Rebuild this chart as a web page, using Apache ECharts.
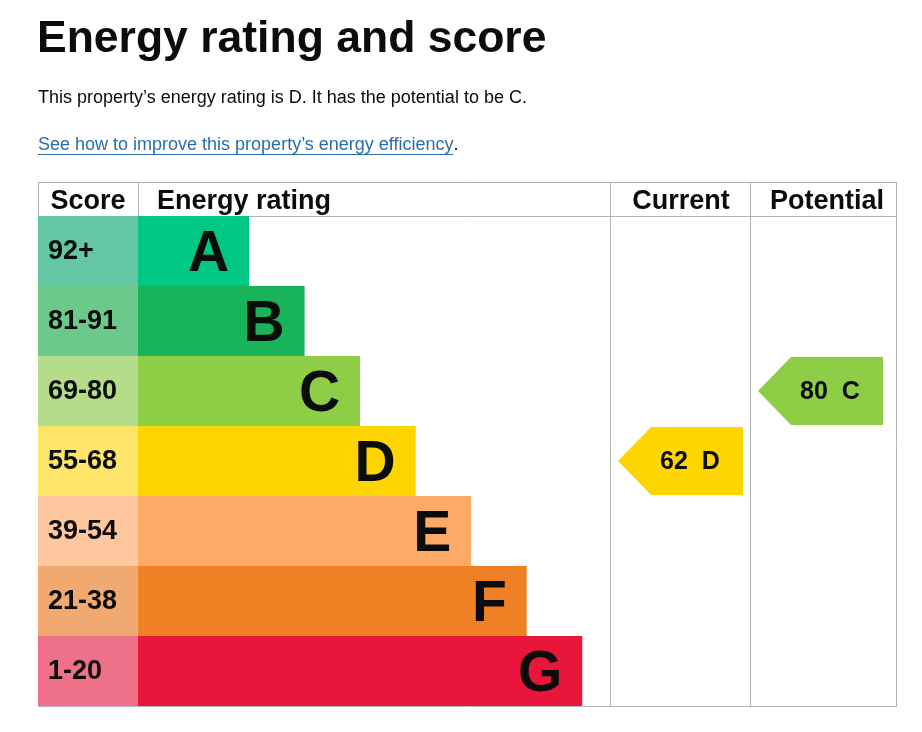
<!DOCTYPE html>
<html>
<head>
<meta charset="utf-8">
<script src="https://cdn.jsdelivr.net/npm/echarts/dist/echarts.min.js"></script>
<style>
  html, body { margin: 0; padding: 0; background: #fff; }
  #main { width: 922px; height: 732px; }
</style>
</head>
<body>
<div id="main"></div>
<script>
var ratings = ['A', 'B', 'C', 'D', 'E', 'F', 'G'];
var scoreRanges = ['92+', '81-91', '69-80', '55-68', '39-54', '21-38', '1-20'];
var bandMin = [92, 81, 69, 55, 39, 21, 1];
var barLength = [2, 3, 4, 5, 6, 7, 8];
var ratingColors = ['#00c781', '#19b459', '#8dce46', '#ffd500', '#fcaa65', '#ef8023', '#e9153b'];
var scoreColors = ['#62c7a2', '#6cc98c', '#b5dd89', '#ffe46a', '#fec79d', '#f0a970', '#ef7189'];
var currentScore = 62;
var potentialScore = 80;

var FONT = '"Liberation Sans", Arial, Helvetica, sans-serif';
var INK = '#0b0c0c';
var LINE = '#b1b4b6';
var LINK = '#2a6eae';

var linkText = 'See how to improve this property\u2019s energy efficiency';

function bandOf(score) {
  for (var i = 0; i < bandMin.length; i++) {
    if (score >= bandMin[i]) return i;
  }
  return bandMin.length - 1;
}

// width of the link text, for its underline
var ctx = document.createElement('canvas').getContext('2d');
ctx.font = '18px ' + FONT;
var linkW = ctx.measureText(linkText).width;

var myChart = echarts.init(document.getElementById('main'));

// four columns of the table share the same row bands
var cols = [
  { left: 38, width: 100 },
  { left: 138, width: 472 },
  { left: 610, width: 140 },
  { left: 750, width: 147 }
];
var grids = cols.map(function (c) {
  return { left: c.left, width: c.width, top: 216, height: 490 };
});
var xAxes = cols.map(function (c, i) {
  return { gridIndex: i, type: 'value', min: 0, max: i === 1 ? 8.5 : 1, show: false };
});
var yAxes = cols.map(function (c, i) {
  return { gridIndex: i, type: 'category', data: ratings, inverse: true, show: false };
});

function arrow(score) {
  return function (params, api) {
    var p = api.coord([api.value(0), api.value(1)]);
    var h = api.size([0, 1])[1] - 2;
    var x0 = p[0] + 8, w = 125, tip = 33;
    var top = p[1] - h / 2, bot = p[1] + h / 2;
    var idx = api.value(1);
    return {
      type: 'group',
      children: [{
        type: 'polygon',
        shape: { points: [[x0, p[1]], [x0 + tip, top], [x0 + w, top], [x0 + w, bot], [x0 + tip, bot]] },
        style: { fill: ratingColors[idx] }
      }, {
        type: 'text',
        style: {
          text: score + '  ' + ratings[idx],
          x: x0 + 72, y: p[1] + 1,
          align: 'center', verticalAlign: 'middle',
          font: 'bold 25px ' + FONT, fill: INK
        }
      }]
    };
  };
}

function hline(x1, x2, y) {
  return { type: 'line', z: 0, shape: { x1: x1, y1: y, x2: x2, y2: y }, style: { stroke: LINE, lineWidth: 1 } };
}
function vline(x, y1, y2) {
  return { type: 'line', z: 0, shape: { x1: x, y1: y1, x2: x, y2: y2 }, style: { stroke: LINE, lineWidth: 1 } };
}
function headText(text, x, align) {
  return { type: 'text', z: 5, style: { text: text, x: x, y: 202, align: align, verticalAlign: 'middle', font: 'bold 27px ' + FONT, fill: INK } };
}

var option = {
  animation: false,
  grid: grids,
  xAxis: xAxes,
  yAxis: yAxes,
  graphic: [
    { type: 'text', style: { text: 'Energy rating and score', x: 37, y: 40, verticalAlign: 'middle', font: 'bold 44.5px ' + FONT, fill: INK } },
    { type: 'text', style: { text: 'This property\u2019s energy rating is D. It has the potential to be C.', x: 38, y: 98, verticalAlign: 'middle', font: '18px ' + FONT, fill: INK } },
    { type: 'text', style: { text: linkText, x: 38, y: 145, verticalAlign: 'middle', font: '18px ' + FONT, fill: LINK } },
    { type: 'text', style: { text: '.', x: 38 + linkW, y: 145, verticalAlign: 'middle', font: '18px ' + FONT, fill: INK } },
    { type: 'line', shape: { x1: 38, y1: 154.5, x2: 38 + linkW, y2: 154.5 }, style: { stroke: LINK, lineWidth: 1 } },
    hline(38, 897, 182.5),
    hline(38, 897, 216.5),
    hline(38, 897, 706.5),
    vline(38.5, 182, 216),
    vline(138.5, 182, 216),
    vline(610.5, 182, 707),
    vline(750.5, 182, 707),
    vline(896.5, 182, 707),
    headText('Score', 88, 'center'),
    headText('Energy rating', 157, 'left'),
    headText('Current', 681, 'center'),
    headText('Potential', 827, 'center')
  ],
  series: [{
    type: 'bar',
    xAxisIndex: 0, yAxisIndex: 0,
    barCategoryGap: 0,
    data: scoreRanges.map(function (s, i) {
      return { value: 1, itemStyle: { color: scoreColors[i] } };
    }),
    label: {
      show: true, position: 'insideLeft', distance: 10, offset: [0, 1],
      formatter: function (p) { return scoreRanges[p.dataIndex]; },
      fontFamily: FONT, fontWeight: 'bold', fontSize: 27, color: INK
    }
  }, {
    type: 'bar',
    xAxisIndex: 1, yAxisIndex: 1,
    barCategoryGap: 0,
    data: barLength.map(function (v, i) {
      return { value: v, itemStyle: { color: ratingColors[i] } };
    }),
    label: {
      show: true, position: 'insideRight', distance: 20, offset: [0, 4],
      formatter: function (p) { return ratings[p.dataIndex]; },
      fontFamily: FONT, fontWeight: 'bold', fontSize: 57, color: INK
    }
  }, {
    type: 'custom',
    xAxisIndex: 2, yAxisIndex: 2,
    encode: { x: 0, y: 1 },
    data: [[0, bandOf(currentScore)]],
    renderItem: arrow(currentScore)
  }, {
    type: 'custom',
    xAxisIndex: 3, yAxisIndex: 3,
    encode: { x: 0, y: 1 },
    data: [[0, bandOf(potentialScore)]],
    renderItem: arrow(potentialScore)
  }]
};
myChart.setOption(option);
</script>
</body>
</html>
